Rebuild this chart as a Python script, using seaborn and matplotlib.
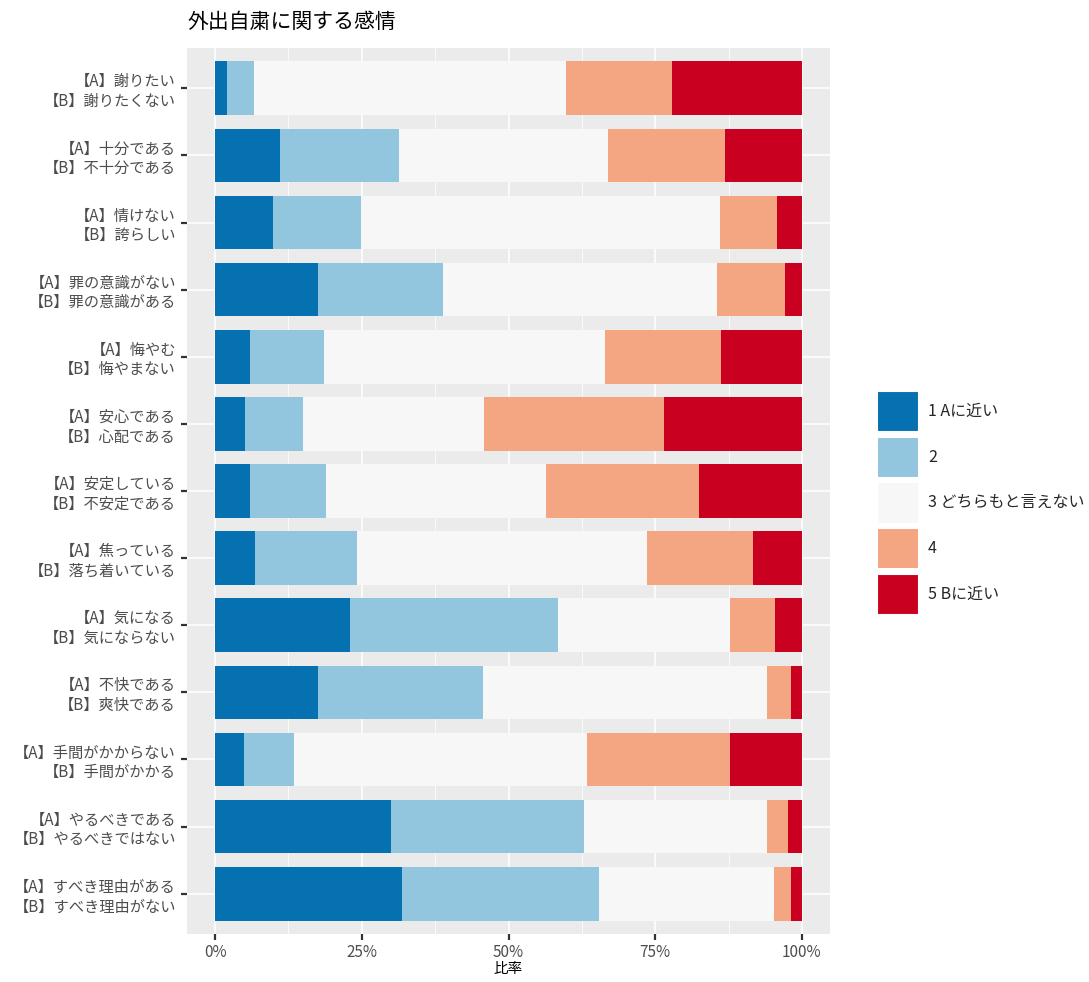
import numpy as np
import pandas as pd
import matplotlib
matplotlib.use("Agg")
import matplotlib.pyplot as plt
from matplotlib.patches import Patch
import seaborn as sns

# ── Data (percent per answer level) ───────────────────────────────────────
ITEMS = [
    "【A】謝りたい\n【B】謝りたくない",
    "【A】十分である\n【B】不十分である",
    "【A】情けない\n【B】誇らしい",
    "【A】罪の意識がない\n【B】罪の意識がある",
    "【A】悔やむ\n【B】悔やまない",
    "【A】安心である\n【B】心配である",
    "【A】安定している\n【B】不安定である",
    "【A】焦っている\n【B】落ち着いている",
    "【A】気になる\n【B】気にならない",
    "【A】不快である\n【B】爽快である",
    "【A】手間がかからない\n【B】手間がかかる",
    "【A】やるべきである\n【B】やるべきではない",
    "【A】すべき理由がある\n【B】すべき理由がない",
]
LEVEL1 = [2.1, 11.1, 9.8, 17.5, 6.0, 5.1, 5.9, 6.8, 23.0, 17.6, 4.9, 29.9, 31.8]
LEVEL2 = [4.6, 20.2, 15.1, 21.3, 12.5, 9.9, 13.0, 17.3, 35.5, 28.0, 8.6, 32.9, 33.6]
LEVEL3 = [53.1, 35.7, 61.1, 46.7, 48.0, 30.9, 37.5, 49.5, 29.2, 48.5, 49.9, 31.2, 29.8]
LEVEL4 = [18.1, 19.9, 9.8, 11.7, 19.7, 30.6, 26.0, 18.1, 7.7, 4.1, 24.3, 3.7, 2.9]
LEVEL5 = [22.1, 13.1, 4.2, 2.8, 13.8, 23.5, 17.6, 8.3, 4.6, 1.8, 12.3, 2.3, 1.9]
LEVEL_NAMES = ["1 Aに近い", "2", "3 どちらもと言えない", "4", "5 Bに近い"]
COLORS = ["#0571B0", "#92C5DE", "#F7F7F7", "#F4A582", "#CA0020"]

sns.set_theme(style="darkgrid")
plt.rcParams["font.family"] = ["Noto Sans CJK JP", "DejaVu Sans"]

levels = np.array([LEVEL1, LEVEL2, LEVEL3, LEVEL4, LEVEL5])
shares = levels / levels.sum(axis=0) * 100
cum = np.cumsum(shares, axis=0)

fig = plt.figure(figsize=(10.89, 9.82), dpi=100)
ax = fig.add_axes([187 / 1089, 48 / 982, 643 / 1089, 886 / 982])
ax.set_facecolor("#EBEBEB")

# stacked bars: draw cumulative totals from the outermost level inward
for k in range(4, -1, -1):
    df = pd.DataFrame({"item": ITEMS, "cum": cum[k]})
    sns.barplot(data=df, x="cum", y="item", order=ITEMS, color=COLORS[k],
                saturation=1, width=0.8, orient="h", ax=ax, zorder=3,
                linewidth=0, edgecolor="none")

n = len(ITEMS)
ax.set_xlim(-4.8, 104.8)
ax.set_ylim(n - 1 + 0.6, -0.6)
ax.set_xticks([0, 25, 50, 75, 100])
ax.set_xticklabels(["0%", "25%", "50%", "75%", "100%"])
ax.set_xticks([12.5, 37.5, 62.5, 87.5], minor=True)
ax.grid(which="major", color="white", lw=1.1, zorder=0)
ax.grid(which="minor", axis="x", color="white", lw=0.55, zorder=0)
ax.set_axisbelow(True)
for s in ax.spines.values():
    s.set_visible(False)
ax.tick_params(axis="both", which="major", length=4.5, width=1.6,
               bottom=True, left=True, color="#333333",
               labelcolor="#4D4D4D", labelsize=11, pad=3.5)
ax.tick_params(axis="x", which="major", pad=2.5)
ax.tick_params(axis="x", which="minor", length=0, bottom=False)
for lab in ax.get_yticklabels():
    lab.set_horizontalalignment("right")
    lab.set_multialignment("right")
    lab.set_linespacing(1.2)
ax.set_xlabel("比率", fontsize=10.5, color="black", labelpad=1)
ax.set_ylabel("")

fig.text(187 / 1089, 1 - 22 / 982, "外出自粛に関する感情", fontsize=15,
         ha="left", va="center", color="black")

handles = [Patch(facecolor=c, edgecolor="white", lw=1.5) for c in COLORS]
fig.legend(handles, LEVEL_NAMES, loc="center left",
           bbox_to_anchor=(877 / 1089, 1 - 503 / 982), frameon=False,
           fontsize=11.5, handlelength=2.6, handleheight=3.6,
           labelspacing=0.28, handletextpad=0.6, borderpad=0, borderaxespad=0)

fig.savefig("out.png", dpi=100)
